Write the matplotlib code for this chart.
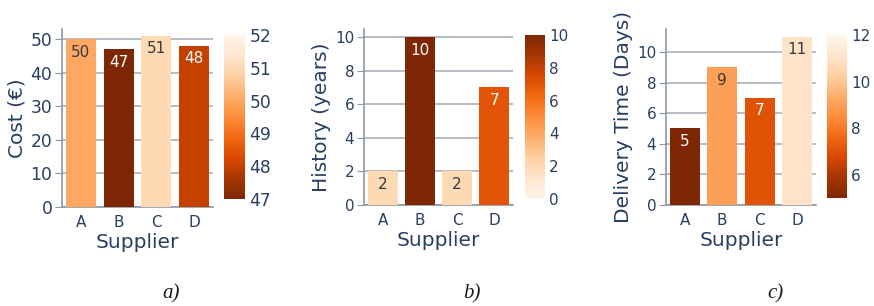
import matplotlib
matplotlib.use('Agg')
import matplotlib.pyplot as plt
from matplotlib import cm, colors

suppliers = ['A', 'B', 'C', 'D']
cost = [50, 47, 51, 48]
history = [2, 10, 2, 7]
delivery = [5, 9, 7, 11]

cost_range = (47, 52)
history_range = (0, 10)
delivery_range = (5, 12)

ylabels = ['Cost (€)', 'History (years)', 'Delivery Time (Days)']
captions = ['a)', 'b)', 'c)']

W, H = 874, 306
navy = '#2a3f5f'
gridc = '#a9b1ba'

fig = plt.figure(figsize=(W / 100, H / 100), dpi=100)
plt.rcParams['font.family'] = 'DejaVu Sans'


def px_axes(x0, x1, y0, y1):
    # pixel box (top-left origin) -> figure fraction
    return fig.add_axes([x0 / W, 1 - y1 / H, (x1 - x0) / W, (y1 - y0) / H])


# values, colour range, cmap, axes box, colorbar box, ylim top, yticks, cbar ticks, caption x, tick size
panels = [
    (cost, cost_range, 'Oranges_r', (62, 213, 29, 207), (224, 245, 35, 199), 53.0,
     [0, 10, 20, 30, 40, 50], [47, 48, 49, 50, 51, 52], 171, 12.3),
    (history, history_range, 'Oranges', (364, 513, 29, 205), (525, 545, 35, 199), 10.48,
     [0, 2, 4, 6, 8, 10], [0, 2, 4, 6, 8, 10], 472, 11),
    (delivery, delivery_range, 'Oranges_r', (666, 816, 29, 205), (827, 847, 35, 198), 11.5,
     [0, 2, 4, 6, 8, 10], [6, 8, 10, 12], 775, 11),
]

for i, (vals, rng, cmap_name, abox, cbox, ytop, yt, ct, capx, tsize) in enumerate(panels):
    ax = px_axes(*abox)
    cmap = plt.get_cmap(cmap_name)
    norm = colors.Normalize(vmin=rng[0], vmax=rng[1])
    bar_cols = [cmap(norm(v)) for v in vals]
    ax.bar(suppliers, vals, width=0.8, color=bar_cols, zorder=3)
    ax.set_xlim(-0.5, 3.5)
    ax.set_ylim(0, ytop)
    ax.set_yticks(yt)
    ax.grid(axis='y', color=gridc, linewidth=1.2, zorder=0)
    for s in ['top', 'right']:
        ax.spines[s].set_visible(False)
    for s in ['left', 'bottom']:
        ax.spines[s].set_color('#8d98a4')
        ax.spines[s].set_linewidth(1.2)
    ax.tick_params(axis='y', length=5, color='#8d98a4', labelsize=tsize, labelcolor=navy, pad=2)
    ax.tick_params(axis='x', length=0, labelsize=11, labelcolor=navy, pad=6)
    ax.set_xlabel('Supplier', fontsize=14.5, color=navy, labelpad=2)
    ax.set_ylabel(ylabels[i], fontsize=14.5, color=navy, labelpad=3)
    for j, v in enumerate(vals):
        t = norm(v) if not cmap_name.endswith('_r') else 1 - norm(v)
        tc = 'white' if t > 0.45 else '#3a3a3a'
        ax.annotate(str(v), (j, v), xytext=(0, -4), textcoords='offset points',
                    ha='center', va='top', fontsize=11, color=tc, zorder=4)

    cax = px_axes(*cbox)
    cb = fig.colorbar(cm.ScalarMappable(norm=norm, cmap=cmap), cax=cax)
    cb.outline.set_visible(False)
    cb.set_ticks(ct)
    cax.tick_params(length=0, labelsize=tsize, labelcolor=navy, pad=3)

    fig.text(capx / W, 1 - 294 / H, captions[i], fontsize=15, style='italic',
             family='Liberation Serif', ha='center', va='center', color='#1a1a1a')

fig.savefig('out.png', dpi=100)
